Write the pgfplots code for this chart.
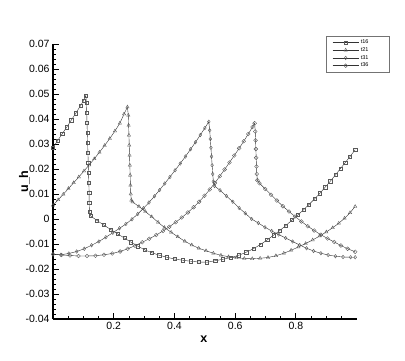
\documentclass[border=0pt]{standalone}
\usepackage{fontspec}
\setmainfont{Liberation Sans}
\setsansfont{Liberation Sans}
\usepackage{pgfplots}
\pgfplotsset{compat=1.18}

\pgfplotstableread{
x y
0 0.0285
0.015 0.0313
0.03 0.0340
0.045 0.0367
0.06 0.0395
0.075 0.0423
0.09 0.0452
0.1 0.0472
0.108 0.0494
0.110 0.0465
0.111 0.0425
0.112 0.0385
0.113 0.0345
0.114 0.0305
0.115 0.0265
0.116 0.0225
0.117 0.0185
0.118 0.0145
0.119 0.0105
0.119 0.0065
0.120 0.0030
0.124 0.0012
0.145 -0.0006
0.167 -0.0024
0.19 -0.0042
0.212 -0.0059
0.235 -0.0076
0.257 -0.0093
0.28 -0.0109
0.303 -0.0124
0.326 -0.0135
0.35 -0.0145
0.375 -0.0153
0.4 -0.0160
0.427 -0.0165
0.454 -0.0169
0.48 -0.0172
0.507 -0.0173
0.534 -0.0167
0.56 -0.0161
0.586 -0.0154
0.612 -0.0145
0.636 -0.0133
0.66 -0.0119
0.683 -0.0102
0.705 -0.0084
0.726 -0.0065
0.747 -0.0046
0.767 -0.0026
0.787 -0.0004
0.806 0.0016
0.825 0.0037
0.843 0.0058
0.861 0.0080
0.879 0.0103
0.896 0.0127
0.913 0.0151
0.93 0.0176
0.946 0.0201
0.962 0.0225
0.978 0.0250
0.995 0.0277
}\tsixteen

\pgfplotstableread{
x y
0 0.0055
0.017 0.0077
0.034 0.0099
0.051 0.0122
0.068 0.0145
0.085 0.0168
0.102 0.0192
0.119 0.0216
0.136 0.0241
0.153 0.0267
0.17 0.0294
0.187 0.0322
0.204 0.0352
0.22 0.0383
0.234 0.0420
0.245 0.0448
0.248 0.0415
0.249 0.0375
0.250 0.0335
0.251 0.0295
0.252 0.0255
0.253 0.0215
0.254 0.0175
0.255 0.0135
0.256 0.0100
0.258 0.0075
0.262 0.0068
0.283 0.0050
0.304 0.0030
0.325 0.0009
0.346 -0.0013
0.367 -0.0034
0.389 -0.0053
0.411 -0.0071
0.434 -0.0089
0.457 -0.0104
0.48 -0.0117
0.504 -0.0127
0.528 -0.0137
0.553 -0.0145
0.578 -0.0151
0.604 -0.0155
0.63 -0.0158
0.656 -0.0159
0.682 -0.0157
0.708 -0.0154
0.734 -0.0147
0.76 -0.0137
0.784 -0.0125
0.808 -0.0112
0.832 -0.0098
0.855 -0.0084
0.878 -0.0068
0.9 -0.0052
0.921 -0.0035
0.941 -0.0017
0.96 0.0003
0.978 0.0025
0.995 0.0050
}\ttwentyone

\pgfplotstableread{
x y
0 -0.0142
0.026 -0.0143
0.052 -0.0138
0.078 -0.0130
0.103 -0.0119
0.127 -0.0105
0.151 -0.0090
0.174 -0.0073
0.197 -0.0055
0.219 -0.0037
0.24 -0.0020
0.26 -0.0001
0.279 0.0020
0.298 0.0043
0.316 0.0066
0.334 0.0091
0.351 0.0116
0.368 0.0142
0.385 0.0168
0.402 0.0195
0.419 0.0222
0.436 0.0250
0.453 0.0279
0.469 0.0307
0.485 0.0336
0.5 0.0364
0.513 0.0389
0.516 0.0355
0.518 0.0320
0.520 0.0285
0.522 0.0250
0.524 0.0215
0.526 0.0180
0.528 0.0150
0.532 0.0132
0.55 0.0115
0.571 0.0092
0.592 0.0069
0.613 0.0044
0.633 0.0023
0.654 0.0000
0.676 -0.0016
0.698 -0.0033
0.72 -0.0048
0.743 -0.0062
0.766 -0.0076
0.789 -0.0090
0.812 -0.0104
0.835 -0.0117
0.858 -0.0128
0.882 -0.0137
0.906 -0.0144
0.93 -0.0149
0.955 -0.0152
0.98 -0.0153
0.995 -0.0153
}\tthirtyone

\pgfplotstableread{
x y
0 -0.0141
0.028 -0.0144
0.056 -0.0146
0.084 -0.0148
0.112 -0.0148
0.14 -0.0147
0.168 -0.0143
0.195 -0.0138
0.221 -0.0130
0.246 -0.0119
0.27 -0.0107
0.294 -0.0093
0.317 -0.0079
0.34 -0.0064
0.362 -0.0048
0.383 -0.0031
0.404 -0.0013
0.424 0.0006
0.444 0.0026
0.463 0.0047
0.481 0.0069
0.499 0.0093
0.516 0.0118
0.533 0.0144
0.549 0.0171
0.565 0.0198
0.581 0.0226
0.597 0.0254
0.613 0.0283
0.628 0.0311
0.643 0.0340
0.657 0.0368
0.664 0.0383
0.666 0.0350
0.667 0.0315
0.668 0.0280
0.669 0.0245
0.670 0.0210
0.671 0.0180
0.673 0.0155
0.68 0.0143
0.699 0.0120
0.718 0.0097
0.737 0.0074
0.757 0.0051
0.777 0.0030
0.797 0.0010
0.818 -0.0010
0.839 -0.0029
0.86 -0.0046
0.882 -0.0063
0.904 -0.0078
0.926 -0.0092
0.948 -0.0106
0.97 -0.0119
0.995 -0.0131
}\tthirtysix

\tikzset{
  curve/.style={draw=black!80, line width=0.4pt, mark options={solid, draw=black!65, fill=none, line width=0.4pt}},
}

\begin{document}
\begin{tikzpicture}
\begin{axis}[
  scale only axis, width=303.7pt, height=275pt,
  xmin=0, xmax=1, ymin=-0.04, ymax=0.07,
  axis x line*=bottom, axis y line*=left,
  axis line style={line width=1.3pt, -},
  tick align=inside,
  xtick={0.2,0.4,0.6,0.8},
  minor xtick={0.05,0.1,0.15,0.25,0.3,0.35,0.45,0.5,0.55,0.65,0.7,0.75,0.85,0.9,0.95},
  ytick={-0.04,-0.03,-0.02,-0.01,0,0.01,0.02,0.03,0.04,0.05,0.06,0.07},
  minor y tick num=4,
  major tick length=6.5pt, minor tick length=3.5pt,
  major tick style={line width=1pt, black},
  minor tick style={line width=0.6pt, black},
  scaled y ticks=false, scaled x ticks=false,
  /pgf/number format/fixed, /pgf/number format/precision=2,
  /pgf/number format/assume math mode=true,
  ticklabel style={font=\fontsize{10.5}{12}\selectfont},
  xlabel={\textbf{x}}, ylabel={\textbf{u\_h}},
  label style={font=\fontsize{12.5}{14}\selectfont},
  xlabel style={at={(axis description cs:0.497,-0.075)}, anchor=center},
  ylabel style={at={(axis description cs:-0.094,0.5)}, anchor=center, rotate=0},
  legend style={at={(axis description cs:1.109,1.029)}, anchor=north east,
    draw=black!55, line width=0.5pt, inner xsep=6pt, inner ysep=1.5pt,
    font=\fontsize{5.5}{5.5}\selectfont, row sep=-1.6pt,
    /tikz/every even column/.append style={column sep=6pt}},
  legend cell align=left,
  legend image code/.code={\draw[mark repeat=2, mark phase=2, #1] plot coordinates {(0pt,0pt) (13pt,0pt) (26pt,0pt)};},
]
\addplot[curve, mark=square, mark size=1.6pt] table {\tsixteen};
\addlegendentry{t16\hspace*{13pt}}
\addplot[curve, mark=triangle, mark size=1.9pt] table {\ttwentyone};
\addlegendentry{t21\hspace*{13pt}}
\addplot[curve, mark=diamond, mark size=1.8pt] table {\tthirtyone};
\addlegendentry{t31\hspace*{13pt}}
\addplot[curve, mark=o, mark size=1.9pt] table {\tthirtysix};
\addlegendentry{t36\hspace*{13pt}}
\end{axis}
\path (current axis.south west) ++(-53pt,-41pt) rectangle ++(405pt,360pt);
\end{tikzpicture}
\end{document}
